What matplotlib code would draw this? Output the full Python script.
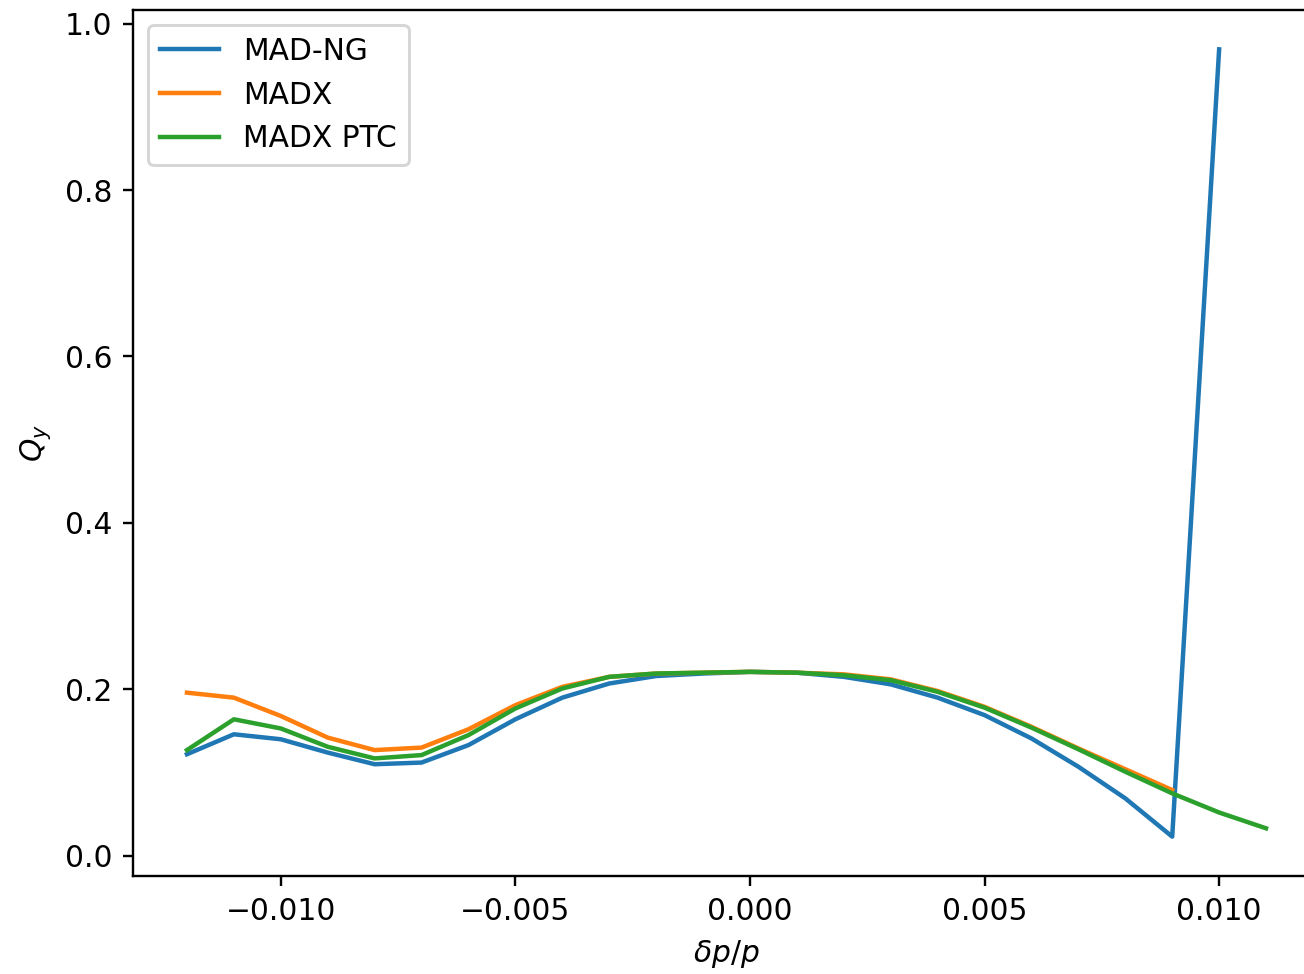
import numpy as np
import matplotlib
matplotlib.use("Agg")
import matplotlib.pyplot as plt

# momentum deviation
dpp_ng = [-0.012, -0.011, -0.010, -0.009, -0.008, -0.007, -0.006, -0.005, -0.004, -0.003,
          -0.002, -0.001, 0.000, 0.001, 0.002, 0.003, 0.004, 0.005, 0.006, 0.007,
          0.008, 0.009, 0.010]
dpp_madx = dpp_ng[:-1]
dpp_ptc = dpp_ng + [0.011]

qy_ng = [0.122, 0.146, 0.140, 0.124, 0.110, 0.112, 0.133, 0.164, 0.190, 0.207,
         0.216, 0.219, 0.221, 0.220, 0.215, 0.206, 0.190, 0.169, 0.141, 0.107,
         0.069, 0.023, 0.969]
qy_madx = [0.196, 0.190, 0.168, 0.142, 0.127, 0.130, 0.152, 0.181, 0.203, 0.215,
           0.219, 0.220, 0.221, 0.220, 0.218, 0.212, 0.198, 0.179, 0.155, 0.129,
           0.104, 0.079]
qy_ptc = [0.127, 0.164, 0.153, 0.131, 0.117, 0.121, 0.145, 0.177, 0.201, 0.215,
          0.219, 0.220, 0.221, 0.220, 0.217, 0.211, 0.197, 0.178, 0.154, 0.128,
          0.101, 0.075, 0.052, 0.033]

DPI = 214
fig = plt.figure(figsize=(1304 / DPI, 974 / DPI), dpi=DPI)
# the reference is cropped on the right, so the axes runs past the figure edge
ax = fig.add_axes([133 / 1304, 98 / 974, (1320 - 133) / 1304, (876 - 10) / 974])

ax.plot(dpp_ng, qy_ng, label="MAD-NG")
ax.plot(dpp_madx, qy_madx, label="MADX")
ax.plot(dpp_ptc, qy_ptc, label="MADX PTC")

ax.set_xlabel(r"$\delta p/p$")
ax.set_ylabel(r"$Q_y$")
ax.legend(loc="upper left")

fig.savefig("out.png", dpi=DPI)
